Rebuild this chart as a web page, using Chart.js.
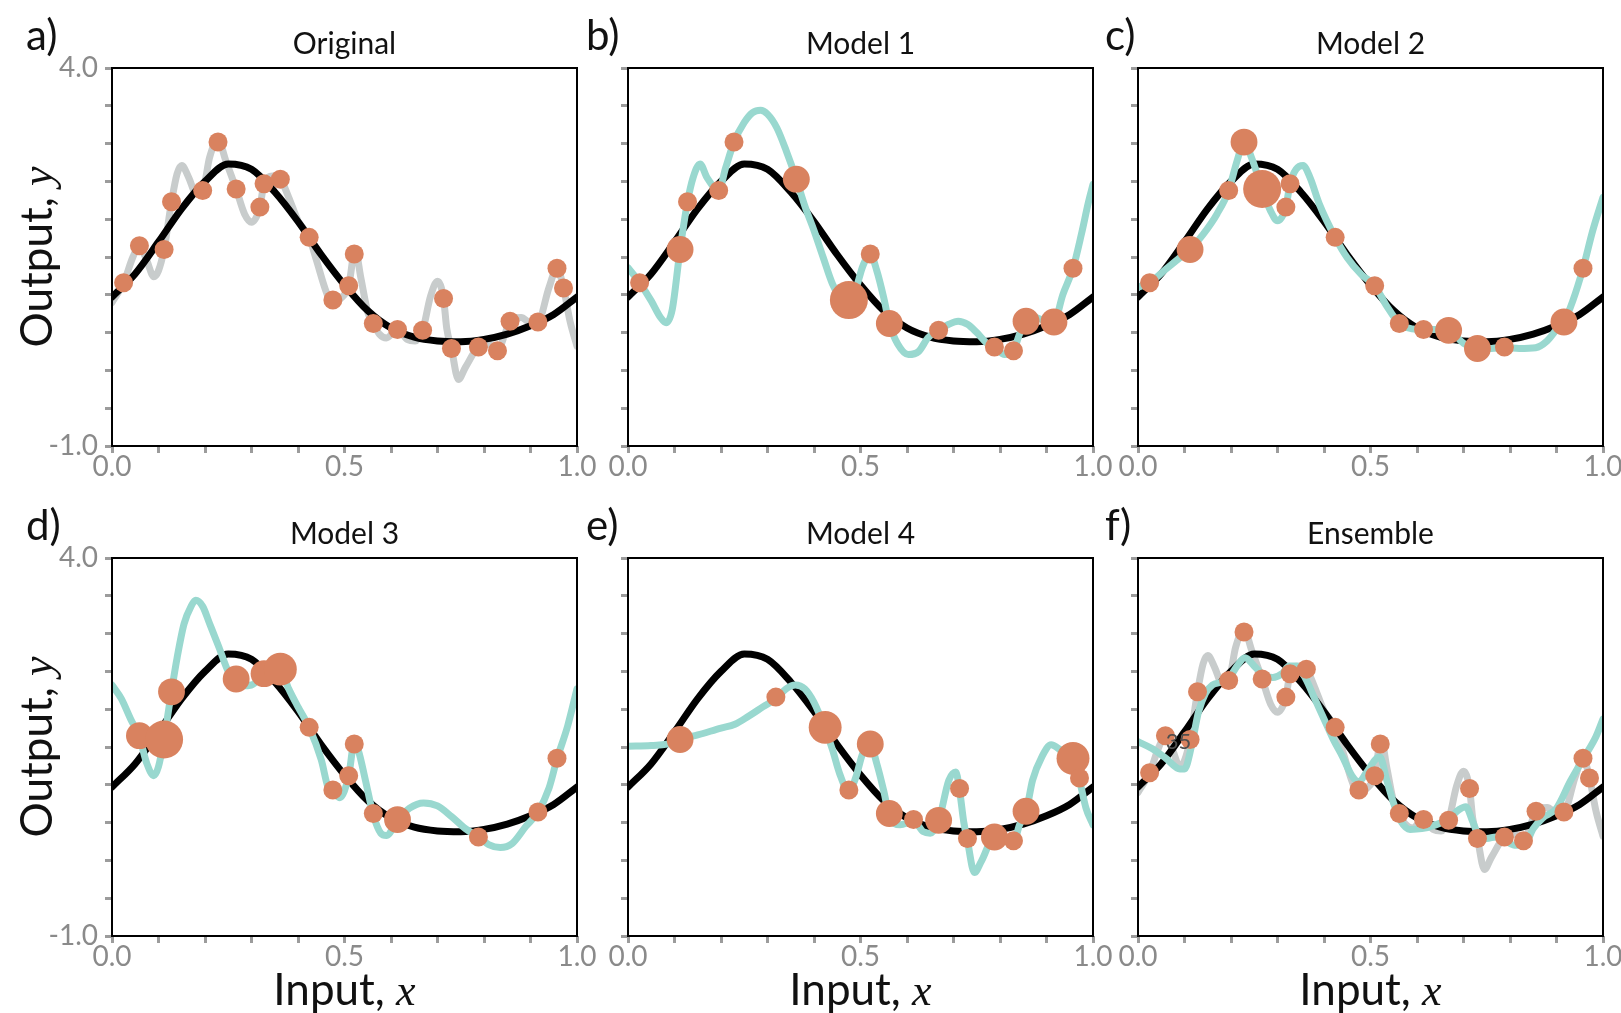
<!DOCTYPE html>
<html>
<head>
<meta charset="utf-8">
<script src="https://cdn.jsdelivr.net/npm/chart.js@4.4.0/dist/chart.umd.min.js"></script>
<style>
  html, body { margin: 0; padding: 0; background: #fff; }
  #fig { position: relative; width: 1621px; height: 1013px; overflow: hidden; background: #fff; }
  .panel { position: absolute; width: 600px; height: 530px; }
</style>
</head>
<body>
<div id="fig"></div>
<script>
// training data
const dataX = [0.025, 0.059, 0.112, 0.128, 0.195, 0.228, 0.267, 0.318, 0.327, 0.362, 0.424, 0.475, 0.509,
               0.521, 0.562, 0.614, 0.668, 0.713, 0.730, 0.788, 0.829, 0.856, 0.916, 0.957, 0.971];
const dataY = [1.16, 1.65, 1.60, 2.23, 2.38, 3.02, 2.40, 2.16, 2.47, 2.53, 1.76, 0.93, 1.12,
               1.54, 0.62, 0.54, 0.53, 0.95, 0.29, 0.31, 0.26, 0.65, 0.64, 1.35, 1.09];

// how many times each training point appears in each sample
const originalCounts = [1,1,1,1,1,1,1,1,1,1,1,1,1,1,1,1,1,1,1,1,1,1,1,1,1];
const model1Counts = [1,0,2,1,1,1,0,0,0,2,0,4,0,1,2,0,1,0,0,1,1,2,2,1,0];
const model2Counts = [1,0,2,0,1,2,4,1,1,0,1,0,1,0,1,1,2,0,2,1,0,0,2,1,0];
const model3Counts = [0,2,4,2,0,0,2,0,2,3,1,1,1,1,1,2,0,0,0,1,0,0,1,1,0];
const model4Counts = [0,0,2,0,0,0,0,1,0,0,3,1,0,2,2,1,2,1,1,2,1,2,0,3,1];

// true function
const trueX = [0, 0.05, 0.1, 0.15, 0.2, 0.25, 0.3, 0.35, 0.4, 0.45, 0.5, 0.55, 0.6, 0.65, 0.7, 0.75, 0.8, 0.85, 0.9, 0.95, 1.0];
const trueY = [0.97, 1.28, 1.70, 2.14, 2.50, 2.73, 2.66, 2.36, 1.97, 1.53, 1.13, 0.79, 0.56, 0.44, 0.39, 0.38, 0.41, 0.48, 0.59, 0.74, 0.97];

// model fitted to the full data set
const origX = [0, 0.025, 0.045, 0.059, 0.075, 0.09, 0.10, 0.112, 0.128, 0.14, 0.15, 0.165, 0.18, 0.195, 0.21, 0.228,
               0.245, 0.267, 0.285, 0.30, 0.318, 0.327, 0.345, 0.362, 0.38, 0.40, 0.424, 0.44, 0.46, 0.475, 0.49,
               0.509, 0.523, 0.535, 0.55, 0.562, 0.575, 0.59, 0.614, 0.635, 0.652, 0.668, 0.685, 0.70, 0.713, 0.72,
               0.73, 0.745, 0.76, 0.788, 0.81, 0.829, 0.845, 0.856, 0.88, 0.90, 0.916, 0.94, 0.957, 0.971, 0.985, 1.0];
const origY = [0.90, 1.16, 1.50, 1.65, 1.45, 1.24, 1.32, 1.60, 2.23, 2.60, 2.71, 2.55, 2.35, 2.38, 2.82, 3.05,
               2.77, 2.40, 2.07, 1.96, 2.16, 2.47, 2.57, 2.53, 2.29, 1.98, 1.76, 1.45, 1.05, 0.86, 0.94,
               1.12, 1.60, 1.23, 0.77, 0.62, 0.48, 0.43, 0.54, 0.41, 0.39, 0.53, 0.98, 1.18, 0.95, 0.55,
               0.29, -0.12, 0.04, 0.31, 0.35, 0.26, 0.48, 0.65, 0.70, 0.63, 0.64, 1.10, 1.35, 1.09, 0.65, 0.32];

// models fitted to the resampled data
const model1X = [0, 0.025, 0.05, 0.07, 0.082, 0.095, 0.112, 0.128, 0.14, 0.155, 0.17, 0.195, 0.21, 0.228, 0.25, 0.268,
                 0.285, 0.30, 0.32, 0.34, 0.362, 0.38, 0.40, 0.42, 0.44, 0.46, 0.475, 0.49, 0.505, 0.521, 0.535, 0.55,
                 0.562, 0.58, 0.603, 0.625, 0.645, 0.668, 0.69, 0.71, 0.73, 0.75, 0.77, 0.788, 0.81, 0.829, 0.842,
                 0.856, 0.875, 0.895, 0.916, 0.935, 0.957, 0.975, 0.99, 1.0];
const model1Y = [1.36, 1.16, 0.92, 0.70, 0.63, 0.80, 1.60, 2.23, 2.55, 2.73, 2.55, 2.38, 2.68, 3.02, 3.28, 3.41,
                 3.44, 3.39, 3.21, 2.91, 2.53, 2.18, 1.85, 1.49, 1.14, 0.95, 0.93, 1.08, 1.38, 1.54, 1.32, 0.96,
                 0.62, 0.35, 0.21, 0.25, 0.43, 0.53, 0.61, 0.65, 0.61, 0.50, 0.37, 0.31, 0.21, 0.26, 0.48,
                 0.65, 0.70, 0.66, 0.64, 1.00, 1.35, 1.80, 2.22, 2.46];

const model2X = [0, 0.025, 0.06, 0.09, 0.112, 0.14, 0.17, 0.195, 0.213, 0.228, 0.245, 0.267, 0.285, 0.30, 0.318,
                 0.327, 0.34, 0.355, 0.37, 0.39, 0.424, 0.45, 0.48, 0.509, 0.535, 0.562, 0.59, 0.614, 0.64, 0.668,
                 0.70, 0.73, 0.76, 0.788, 0.82, 0.855, 0.88, 0.90, 0.916, 0.935, 0.957, 0.978, 1.0];
const model2Y = [1.10, 1.16, 1.34, 1.49, 1.60, 1.80, 2.07, 2.38, 2.77, 3.02, 2.80, 2.40, 2.11, 1.98, 2.16,
                 2.47, 2.66, 2.71, 2.55, 2.20, 1.76, 1.49, 1.27, 1.12, 0.85, 0.62, 0.55, 0.54, 0.54, 0.53,
                 0.36, 0.29, 0.29, 0.30, 0.29, 0.30, 0.39, 0.54, 0.64, 0.92, 1.35, 1.85, 2.29];

const model3X = [0, 0.02, 0.04, 0.059, 0.075, 0.09, 0.10, 0.112, 0.128, 0.14, 0.155, 0.17, 0.18, 0.195, 0.21, 0.23,
                 0.25, 0.267, 0.28, 0.30, 0.327, 0.345, 0.362, 0.38, 0.40, 0.424, 0.45, 0.465, 0.475, 0.49, 0.509,
                 0.521, 0.53, 0.545, 0.562, 0.578, 0.59, 0.614, 0.64, 0.67, 0.70, 0.73, 0.76, 0.788, 0.81, 0.835,
                 0.86, 0.89, 0.916, 0.94, 0.957, 0.98, 1.0];
const model3Y = [2.32, 2.14, 1.87, 1.63, 1.28, 1.12, 1.24, 1.61, 2.24, 2.68, 3.13, 3.36, 3.44, 3.36, 3.13, 2.82,
                 2.50, 2.39, 2.31, 2.32, 2.47, 2.55, 2.53, 2.27, 2.03, 1.76, 1.33, 0.96, 0.91, 0.83, 1.12,
                 1.55, 1.45, 1.06, 0.60, 0.36, 0.33, 0.53, 0.69, 0.76, 0.72, 0.58, 0.42, 0.31, 0.21, 0.17,
                 0.22, 0.45, 0.64, 0.96, 1.34, 1.78, 2.27];

const model4X = [0, 0.05, 0.1, 0.112, 0.15, 0.2, 0.23, 0.26, 0.29, 0.318, 0.34, 0.36, 0.38, 0.40, 0.424, 0.44,
                 0.455, 0.475, 0.49, 0.505, 0.521, 0.535, 0.55, 0.562, 0.585, 0.614, 0.635, 0.65, 0.668, 0.69,
                 0.705, 0.713, 0.722, 0.73, 0.745, 0.76, 0.788, 0.81, 0.829, 0.842, 0.856, 0.87, 0.89, 0.91,
                 0.93, 0.957, 0.971, 0.985, 1.0];
const model4Y = [1.51, 1.52, 1.56, 1.60, 1.66, 1.75, 1.80, 1.91, 2.03, 2.14, 2.27, 2.32, 2.27, 2.09, 1.74, 1.46,
                 1.15, 0.91, 1.10, 1.42, 1.53, 1.28, 0.92, 0.59, 0.47, 0.52, 0.38, 0.36, 0.52, 1.06,
                 1.17, 0.93, 0.51, 0.26, -0.16, -0.01, 0.31, 0.26, 0.24, 0.47, 0.64, 1.06, 1.37, 1.53,
                 1.46, 1.34, 1.06, 0.69, 0.47];

// average of the four models
const ensembleX = [0, 0.03, 0.06, 0.09, 0.10, 0.115, 0.13, 0.145, 0.16, 0.18, 0.2, 0.215, 0.23, 0.25, 0.27, 0.29,
                   0.31, 0.325, 0.34, 0.36, 0.38, 0.4, 0.42, 0.44, 0.46, 0.475, 0.49, 0.51, 0.52, 0.535, 0.55,
                   0.565, 0.585, 0.61, 0.64, 0.67, 0.69, 0.705, 0.72, 0.735, 0.75, 0.77, 0.79, 0.81, 0.83, 0.85,
                   0.87, 0.9, 0.93, 0.96, 0.985, 1.0];
const ensembleY = [1.57, 1.48, 1.35, 1.21, 1.21, 1.51, 1.96, 2.21, 2.32, 2.36, 2.45, 2.59, 2.68, 2.57, 2.45, 2.42,
                   2.47, 2.57, 2.57, 2.41, 2.14, 1.87, 1.60, 1.37, 1.12, 1.04, 1.15, 1.33, 1.37, 1.06, 0.75,
                   0.52, 0.41, 0.42, 0.47, 0.56, 0.67, 0.71, 0.51, 0.31, 0.29, 0.31, 0.26, 0.20, 0.20, 0.42,
                   0.56, 0.69, 1.05, 1.37, 1.64, 1.87];

const titles = ['Original', 'Model 1', 'Model 2', 'Model 3', 'Model 4', 'Ensemble'];
const letters = ['a)', 'b)', 'c)', 'd)', 'e)', 'f)'];
const xLabelled = [0.0, 0.5, 1.0];
const yLabelled = [-1.0, 4.0];

const ORANGE = '#d9825f';
const TEAL = '#99d8cf';
const GREY = '#c8cccc';
const TICK = '#9c9c9c';
const LABEL = '#8a8a8a';
const SANS = 'Lato, "Open Sans", sans-serif';

const colLeft = [0, 516, 1026];
const rowTop = [0, 490];
const letterX = [26, 70, 79];

const panels = [
  { counts: originalCounts, orig: true },
  { counts: model1Counts, fitX: model1X, fitY: model1Y },
  { counts: model2Counts, fitX: model2X, fitY: model2Y },
  { counts: model3Counts, fitX: model3X, fitY: model3Y },
  { counts: model4Counts, fitX: model4X, fitY: model4Y },
  { counts: originalCounts, orig: true, fitX: ensembleX, fitY: ensembleY, note: { text: '35', x: 0.087, y: 1.57 } }
];

const toXY = (xs, ys) => xs.map((x, i) => ({ x: x, y: ys[i] }));
const near = (list, v) => list.some(t => Math.abs(t - v) < 1e-6);

// word in sans followed by an italic maths symbol, centred on (x, y) at the baseline
function axisLabel(ctx, word, sym, x, y, vertical) {
  const wordFont = '44px ' + SANS;
  const symFont = 'italic 44px "Liberation Serif", "DejaVu Serif", serif';
  ctx.save();
  ctx.translate(x, y);
  if (vertical) ctx.rotate(-Math.PI / 2);
  ctx.fillStyle = '#111';
  ctx.textBaseline = 'alphabetic';
  ctx.textAlign = 'left';
  ctx.font = wordFont;
  const w1 = ctx.measureText(word).width;
  ctx.font = symFont;
  const w2 = ctx.measureText(sym).width;
  const x0 = -(w1 + w2) / 2;
  ctx.font = wordFont;
  ctx.fillText(word, x0, 0);
  ctx.font = symFont;
  ctx.fillText(sym, x0 + w1, 0);
  ctx.restore();
}

const panelText = {
  id: 'panelText',
  afterDatasetsDraw(chart, args, opts) {
    const { ctx, chartArea: a } = chart;
    ctx.save();
    ctx.strokeStyle = '#000';
    ctx.lineWidth = 2;
    ctx.strokeRect(a.left, a.top, a.right - a.left, a.bottom - a.top);

    ctx.fillStyle = '#111';
    ctx.textBaseline = 'alphabetic';
    ctx.textAlign = 'left';
    ctx.font = '42px ' + SANS;
    ctx.fillText(opts.letter, opts.letterX, 50);

    ctx.textAlign = 'center';
    ctx.font = '30px ' + SANS;
    ctx.fillText(opts.title, (a.left + a.right) / 2, a.top - 14);

    if (opts.note) {
      ctx.fillStyle = '#4d4d4d';
      ctx.font = '22px ' + SANS;
      ctx.textBaseline = 'middle';
      ctx.fillText(opts.note.text, chart.scales.x.getPixelForValue(opts.note.x),
                   chart.scales.y.getPixelForValue(opts.note.y));
    }
    ctx.restore();

    if (opts.yTitle) axisLabel(ctx, 'Output, ', 'y', 52, (a.top + a.bottom) / 2, true);
    if (opts.xTitle) axisLabel(ctx, 'Input, ', 'x', (a.left + a.right) / 2, 515, false);
  }
};

const fig = document.getElementById('fig');

panels.forEach((p, i) => {
  const col = i % 3, row = Math.floor(i / 3);
  const div = document.createElement('div');
  div.className = 'panel';
  div.style.left = colLeft[col] + 'px';
  div.style.top = rowTop[row] + 'px';
  const canvas = document.createElement('canvas');
  canvas.width = 600;
  canvas.height = 530;
  div.appendChild(canvas);
  fig.appendChild(div);

  const pts = [], radii = [];
  p.counts.forEach((n, k) => {
    if (n > 0) {
      pts.push({ x: dataX[k], y: dataY[k] });
      radii.push(9.5 * Math.sqrt(n));
    }
  });

  const curve = (xs, ys, color, order) => ({
    data: toXY(xs, ys),
    showLine: true,
    borderColor: color,
    borderWidth: 7,
    borderCapStyle: 'round',
    borderJoinStyle: 'round',
    pointRadius: 0,
    cubicInterpolationMode: 'monotone',
    clip: 0,
    order: order
  });

  const datasets = [{
    data: pts,
    showLine: false,
    pointRadius: radii,
    pointBackgroundColor: ORANGE,
    pointBorderWidth: 0,
    clip: 0,
    order: 0
  }];
  if (p.fitX) datasets.push(curve(p.fitX, p.fitY, TEAL, 1));
  datasets.push(curve(trueX, trueY, '#000', 2));
  if (p.orig) datasets.push(curve(origX, origY, GREY, 3));

  const grid = { drawOnChartArea: false, drawTicks: true, tickLength: 7, tickWidth: 3, tickColor: TICK };
  const tickFont = { family: SANS, size: 28 };

  new Chart(canvas, {
    type: 'scatter',
    data: { datasets: datasets },
    plugins: [panelText],
    options: {
      responsive: false,
      animation: false,
      events: [],
      layout: { padding: { left: 0, top: 68, right: 23, bottom: 44 } },
      plugins: {
        legend: { display: false },
        tooltip: { enabled: false },
        panelText: {
          letter: letters[i],
          letterX: letterX[col],
          title: titles[i],
          yTitle: col === 0,
          xTitle: row === 1,
          note: p.note || null
        }
      },
      scales: {
        x: {
          type: 'linear', min: 0, max: 1,
          grid: grid,
          border: { display: false },
          ticks: {
            stepSize: 0.1, autoSkip: false, maxRotation: 0, padding: -3,
            color: LABEL, font: tickFont,
            callback: v => near(xLabelled, v) ? v.toFixed(1) : ''
          },
          afterFit: s => { s.height = 40; s.paddingLeft = 0; s.paddingRight = 0; }
        },
        y: {
          type: 'linear', min: -1, max: 4,
          grid: grid,
          border: { display: false },
          ticks: {
            stepSize: 0.5, autoSkip: false, padding: 7,
            color: LABEL, font: tickFont,
            callback: v => (col === 0 && near(yLabelled, v)) ? v.toFixed(1) : ''
          },
          afterFit: s => { s.width = 112; s.paddingTop = 0; s.paddingBottom = 0; }
        }
      }
    }
  });
});
</script>
</body>
</html>
